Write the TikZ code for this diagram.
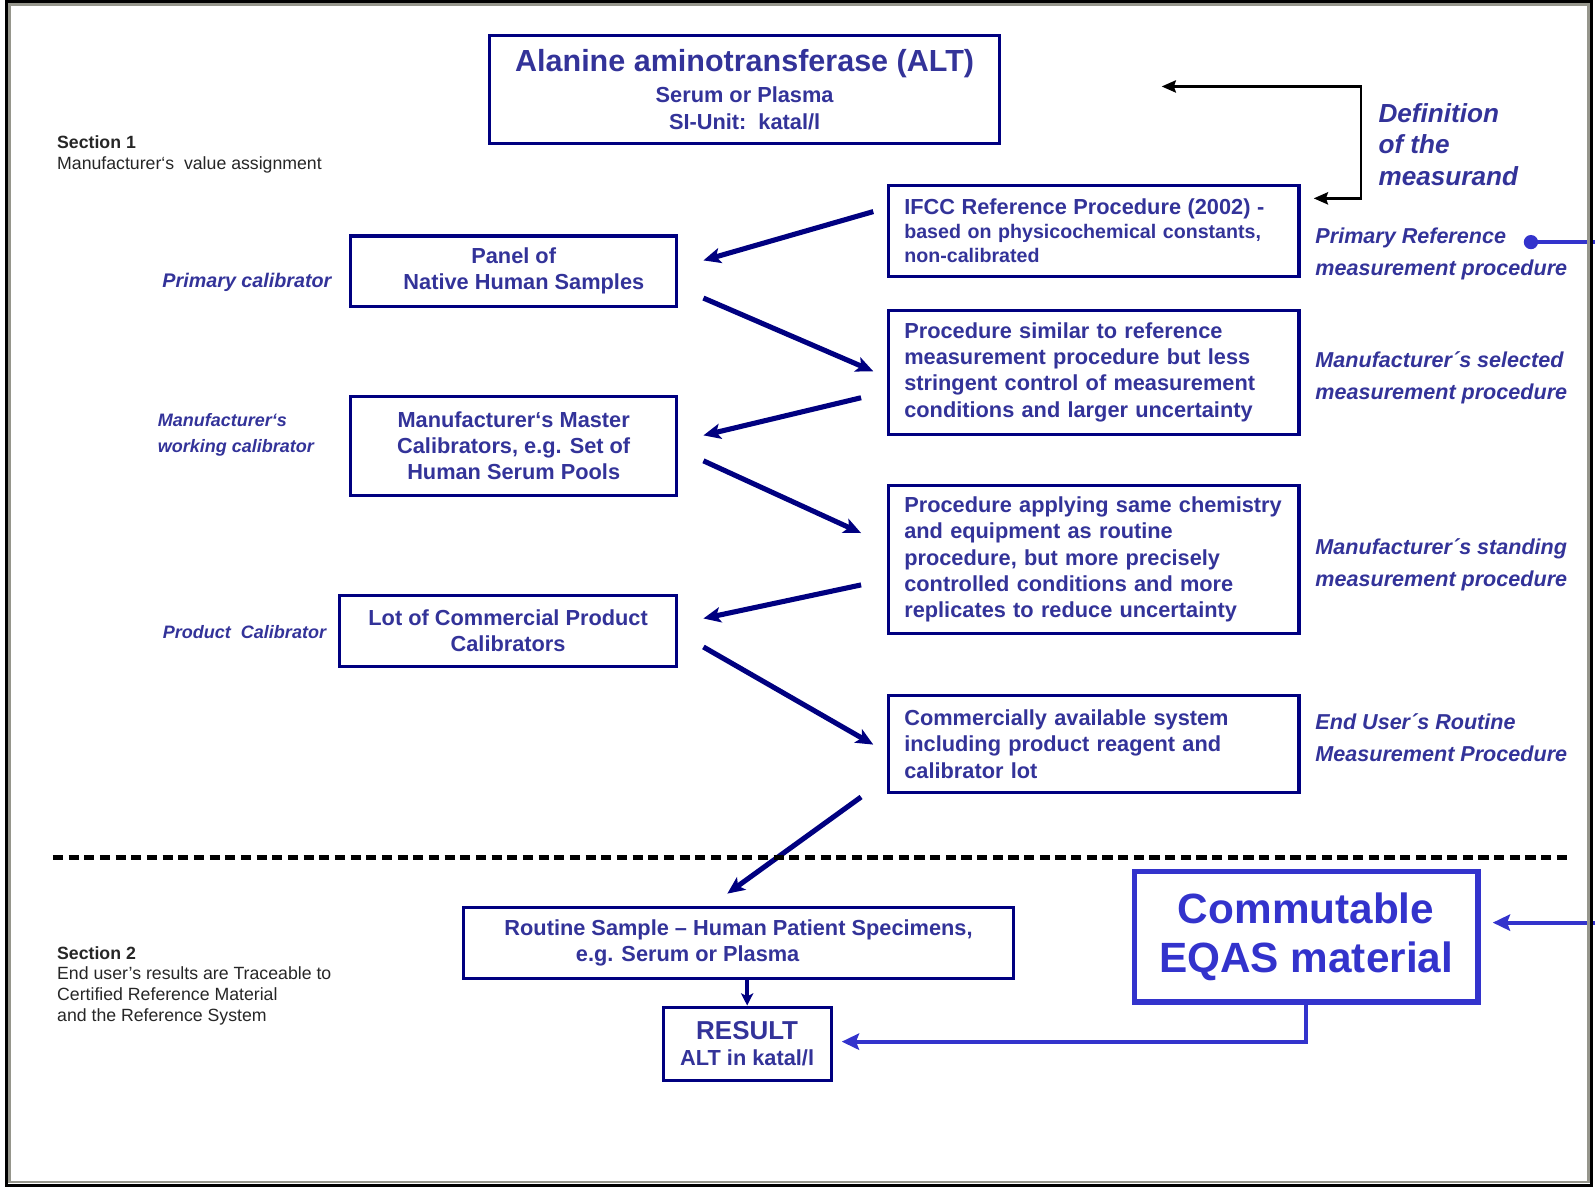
\documentclass[tikz,border=0pt]{standalone}
\usepackage{fontspec}
\setmainfont{Liberation Sans}
\usetikzlibrary{arrows.meta}

\definecolor{boxnavy}{RGB}{0,0,128}
\definecolor{txtblue}{RGB}{51,51,153}
\definecolor{eqasblue}{RGB}{51,51,204}
\definecolor{framegray}{RGB}{150,150,140}

\begin{document}
\begin{tikzpicture}[
    x=1pt, y=-1pt,
    box/.style={
        rectangle, draw=boxnavy, line width=3pt, text=txtblue,
        inner sep=0pt, align=center,
        font=\fontsize{21.4}{25.7}\selectfont\bfseries
    },
    procbox/.style={
        box, minimum width=404pt, text width=372pt, align=left
    },
    level/.style={
        text=txtblue, inner sep=0pt, align=left, anchor=west,
        font=\fontsize{21.2}{31.5}\selectfont\bfseries\itshape
    },
    calib/.style={
        text=txtblue, inner sep=0pt, align=left,
        font=\fontsize{17.7}{25}\selectfont\bfseries\itshape
    },
    section/.style={
        text=black!85, inner sep=0pt, align=left, anchor=west,
        font=\fontsize{17.4}{20.5}\selectfont
    },
    flow/.style={boxnavy, line width=5pt,
        -{Stealth[length=17pt, width=15pt, inset=4pt]}},
    shortflow/.style={boxnavy, line width=4pt,
        -{Stealth[length=12pt, width=12pt, inset=3pt]}},
    defflow/.style={black, line width=2.5pt,
        {Stealth[length=14pt, width=12pt, inset=2pt]}-{Stealth[length=14pt, width=12pt, inset=2pt]}},
    eqasflow/.style={eqasblue, line width=4pt},
    divider/.style={black, line width=4pt, dash pattern=on 10pt off 5.4pt}
]
\useasboundingbox (0,0) rectangle (1568,1171);

\node[box, minimum width=502pt, minimum height=106pt] (alt) at (732,88)
    {{\fontsize{30}{30}\selectfont Alanine aminotransferase (ALT)}\\[5pt] Serum or Plasma\\ SI-Unit:\ \ katal/l};

\node[procbox, minimum height=90pt, font=\fontsize{19.3}{23.5}\selectfont\bfseries] (ifcc) at (1075,227)
    {{\fontsize{21.4}{24}\selectfont IFCC Reference Procedure (2002) -}\\ based on physicochemical constants,\\ non-calibrated};
\node[procbox, minimum height=122pt] (similar) at (1075,366)
    {Procedure similar to reference\\ measurement procedure but less\\ stringent control of measurement\\ conditions and larger uncertainty};
\node[procbox, minimum height=146pt] (applying) at (1075,550)
    {Procedure applying same chemistry\\ and equipment as routine\\ procedure, but more precisely\\ controlled conditions and more\\ replicates to reduce uncertainty};
\node[procbox, minimum height=95pt] (commercial) at (1075,731.5)
    {Commercially available system\\ including product reagent and\\ calibrator lot};

\node[box, minimum width=320pt, minimum height=69pt] (panel) at (505,266.5)
    {Panel of\\ \hspace*{20pt}Native Human Samples};
\node[box, minimum width=320pt, minimum height=97pt] (master) at (505,438.5)
    {Manufacturer‘s Master\\ Calibrators, e.g. Set of\\ Human Serum Pools};
\node[box, minimum width=331pt, minimum height=70pt] (lot) at (499.5,620)
    {Lot of Commercial Product\\ Calibrators};

\node[box, minimum width=540pt, minimum height=70pt] (routine) at (726,927)
    {Routine Sample – Human Patient Specimens,\\ e.g. Serum or Plasma\hspace*{100pt}};
\node[box, minimum width=165pt, minimum height=72pt] (result) at (734.5,1026)
    {{\fontsize{25.5}{26}\selectfont RESULT}\\ ALT in katal/l};
\node[box, draw=eqasblue, text=eqasblue, line width=5pt, minimum width=338pt, minimum height=128pt,
      font=\fontsize{41.6}{48}\selectfont\bfseries] (eqas) at (1284,921)
    {Commutable\\ EQAS material};

\node[level, font=\fontsize{25.7}{31}\selectfont\bfseries\itshape] (measurand) at (1355,142)
    {Definition\\ of the\\ measurand};
\node[level] (primref) at (1293,250) {Primary Reference\\ measurement procedure};
\node[level] (selected) at (1293,371.5) {Manufacturer´s selected\\ measurement procedure};
\node[level] (standing) at (1293,555.5) {Manufacturer´s standing\\ measurement procedure};
\node[level] (enduser) at (1293,725.5) {End User´s Routine\\ Measurement Procedure};

\node[calib, anchor=east, font=\fontsize{19.4}{25}\selectfont\bfseries\itshape] (primcal) at (326,277.5) {Primary calibrator};
\node[calib, anchor=west] (workcal) at (155,427.5) {Manufacturer‘s\\ working calibrator};
\node[calib, anchor=west] (prodcal) at (160,621.5) {Product\ \ Calibrator};

\node[section] (sect1) at (56,152) {\textbf{Section 1}\\ Manufacturer‘s\ \ value assignment};
\node[section] (sect2) at (56,969)
    {\textbf{Section 2}\\ End user's results are Traceable to\\ Certified Reference Material\\ and the Reference System};

\node[circle, fill=eqasblue, minimum size=14pt, inner sep=0pt] (refdot) at (1505,238) {};
\coordinate (deftop) at (1142,85);
\coordinate (defcorner) at (1338,85);
\coordinate (dotend) at (1568,238);
\coordinate (eqasin) at (1568,907);

\draw[defflow] (deftop) -- (defcorner) |- ([xshift=13pt, yshift=32pt]ifcc.east);

\draw[flow] ([xshift=-13pt, yshift=19pt]ifcc.west)      -- ([xshift=25pt, yshift=10.5pt]panel.east);
\draw[flow] ([xshift=25pt, yshift=-26.5pt]panel.east)   -- ([xshift=-13pt, yshift=1pt]similar.west);
\draw[flow] ([xshift=-25pt, yshift=-25pt]similar.west)  -- ([xshift=25pt, yshift=10.5pt]master.east);
\draw[flow] ([xshift=25pt, yshift=-14.5pt]master.east)  -- ([xshift=-25pt, yshift=26pt]applying.west);
\draw[flow] ([xshift=-25pt, yshift=-25pt]applying.west) -- ([xshift=25pt, yshift=12pt]lot.east);
\draw[flow] ([xshift=25pt, yshift=-16pt]lot.east)       -- ([xshift=-13pt, yshift=-0.5pt]commercial.west);
\draw[flow] ([xshift=-25pt, yshift=-3pt]commercial.south west) -- ([xshift=-11pt, yshift=12pt]routine.north);
\draw[shortflow] (routine.south -| result.north) -- (result.north);

\draw[divider] (52,843) -- (1545,843);

\draw[eqasflow] (refdot.center) -- (dotend);
\draw[eqasflow, -{Stealth[length=17pt, width=16pt, inset=3pt]}] (eqasin) -- ([xshift=12pt, yshift=14pt]eqas.east);
\draw[eqasflow, -{Stealth[length=17pt, width=16pt, inset=3pt]}] (eqas.south) |- ([xshift=9pt, yshift=2pt]result.east);

\draw[black, line width=3pt] (6,1.5) rectangle (1565,1165);
\draw[framegray, line width=2.5pt] (9.5,4.5) rectangle (1561.5,1162);
\end{tikzpicture}
\end{document}
